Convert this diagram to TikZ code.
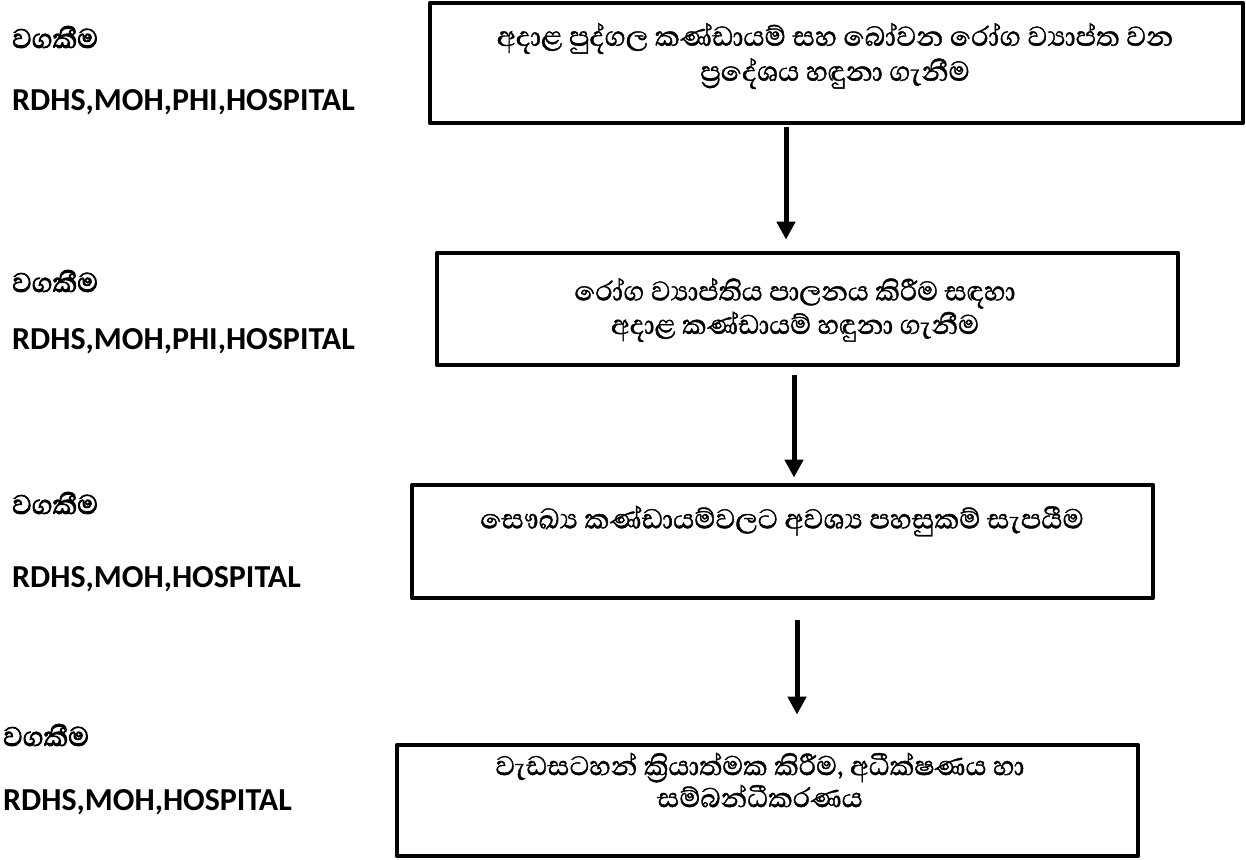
\documentclass[tikz,border=0pt]{standalone}
\usepackage{fontspec}
\setmainfont{Carlito}
\newfontfamily\sinhalafont[Script=Sinhala,FakeBold=1.2]{Abhaya Libre}
\newfontfamily\sinhalaheavy[Script=Sinhala,FakeBold=2.5]{Abhaya Libre}
\usetikzlibrary{arrows.meta,calc}
\begin{document}
\begin{tikzpicture}[x=1pt,y=-1pt,
  box/.style={draw=black, line width=4.8pt, line join=round, inner sep=0pt, anchor=center},
  boxtext/.style={align=center, inner sep=0pt, anchor=center, font={\sinhalafont\fontsize{35}{35}\selectfont\lineskiplimit=-100pt}},
  duty/.style={anchor=west, inner sep=0pt, font={\sinhalaheavy\fontsize{34.5}{36}\selectfont}},
  org/.style={anchor=west, inner sep=0pt, font={\bfseries\fontsize{32}{36}\selectfont}},
  flow/.style={line width=5pt, -{Triangle[width=18pt,length=18pt]}}]
\useasboundingbox (0,0) rectangle (1246,859);
\fill[white] (0,0) rectangle (1246,859);
% boxes
\node[box, minimum width=813pt, minimum height=120pt] (b1) at (836.5,63) {};
\node[box, minimum width=741pt, minimum height=112pt] (b2) at (807.5,309) {};
\node[box, minimum width=741pt, minimum height=113pt] (b3) at (782.5,541.5) {};
\node[box, minimum width=741pt, minimum height=111pt] (b4) at (767.5,800.5) {};
% box texts
\node[boxtext] (t1) at (835,56) {අදාළ පුද්ගල කණ්ඩායම් සහ බෝවන රෝග ව්‍යාප්ත වන\\ප්‍රදේශය හඳුනා ගැනීම};
\node[boxtext, font={\sinhalafont\fontsize{34.5}{33.5}\selectfont\lineskiplimit=-100pt}] (t2) at (795,310) {රෝග ව්‍යාප්තිය පාලනය කිරීම සඳහා\\අදාළ කණ්ඩායම් හඳුනා ගැනීම};
\node[boxtext] (t3) at (782,521) {සෞඛ්‍ය කණ්ඩායම්වලට අවශ්‍ය පහසුකම් සැපයීම};
\node[boxtext, font={\sinhalafont\fontsize{34.5}{32}\selectfont\lineskiplimit=-100pt}] (t4) at (760,780) {වැඩසටහන් ක්‍රියාත්මක කිරීම, අධීක්ෂණය හා\\සම්බන්ධීකරණය};
% left labels
\node[duty] (l1a) at (12,37) {වගකීම};
\node[org]  (l1b) at (12,102) {RDHS,MOH,PHI,HOSPITAL};
\node[duty] (l2a) at (12,281) {වගකීම};
\node[org]  (l2b) at (12,341) {RDHS,MOH,PHI,HOSPITAL};
\node[duty] (l3a) at (12,503) {වගකීම};
\node[org]  (l3b) at (12,579) {RDHS,MOH,HOSPITAL};
\node[duty] (l4a) at (3,735) {වගකීම};
\node[org]  (l4b) at (3,802) {RDHS,MOH,HOSPITAL};
% arrows
\draw[flow] ($(b1.south)+(-50.5,2)$) -- ($(b2.north)+(-21.5,-11)$);
\draw[flow] ($(b2.south)+(-13.5,8)$) -- ($(b3.north)+(11.5,-5)$);
\draw[flow] ($(b3.south)+(14.5,20)$) -- ($(b4.north)+(29.5,-28)$);
\end{tikzpicture}
\end{document}
